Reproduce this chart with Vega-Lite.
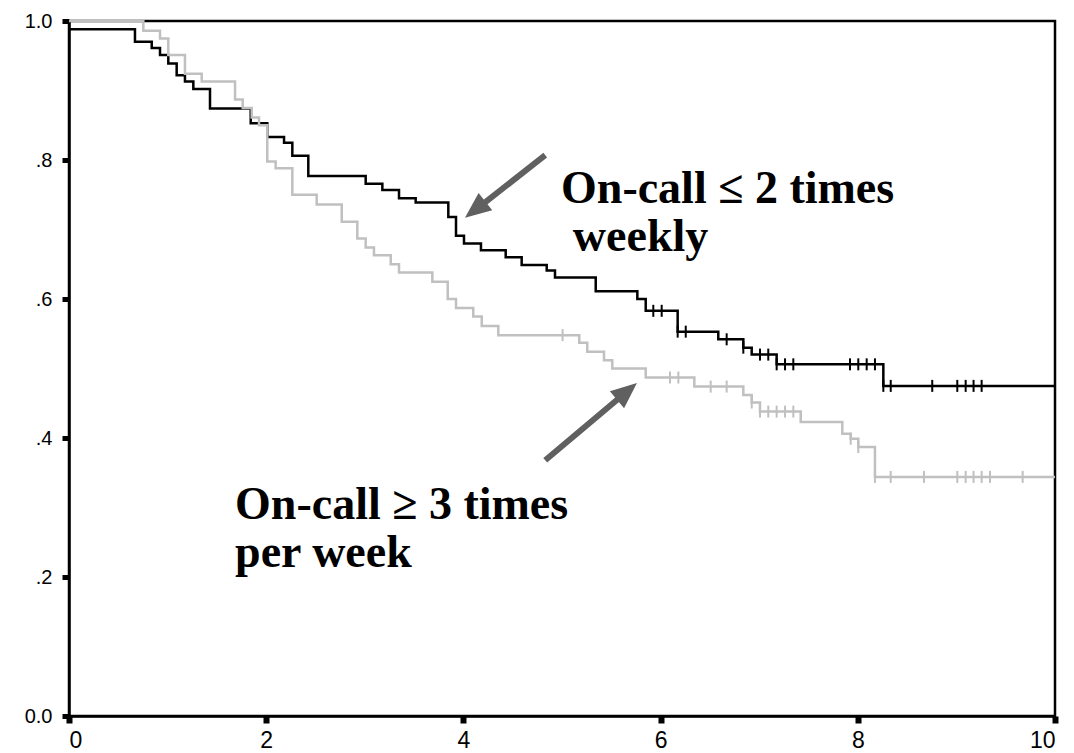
{
  "$schema": "https://vega.github.io/schema/vega-lite/v6.json",
  "width": 986,
  "height": 695,
  "autosize": {"type": "none"},
  "padding": {"left": 69, "top": 21, "right": 19, "bottom": 37},
  "background": "white",
  "config": {
    "view": {"stroke": "black", "strokeWidth": 2.5},
    "axis": {"grid": false, "domainColor": "black", "domainWidth": 2.5, "tickColor": "black", "labelColor": "black", "labelFont": "Liberation Sans", "title": null}
  },
  "datasets": {
    "curves": [
      {"group": "low", "t": 0, "s": 0.988},
      {"group": "low", "t": 0.669, "s": 0.970},
      {"group": "low", "t": 0.839, "s": 0.961},
      {"group": "low", "t": 0.923, "s": 0.951},
      {"group": "low", "t": 1.007, "s": 0.939},
      {"group": "low", "t": 1.092, "s": 0.922},
      {"group": "low", "t": 1.176, "s": 0.913},
      {"group": "low", "t": 1.261, "s": 0.902},
      {"group": "low", "t": 1.430, "s": 0.874},
      {"group": "low", "t": 1.843, "s": 0.853},
      {"group": "low", "t": 2.011, "s": 0.833},
      {"group": "low", "t": 2.181, "s": 0.825},
      {"group": "low", "t": 2.265, "s": 0.806},
      {"group": "low", "t": 2.427, "s": 0.777},
      {"group": "low", "t": 3.009, "s": 0.766},
      {"group": "low", "t": 3.178, "s": 0.757},
      {"group": "low", "t": 3.347, "s": 0.745},
      {"group": "low", "t": 3.516, "s": 0.739},
      {"group": "low", "t": 3.847, "s": 0.718},
      {"group": "low", "t": 3.925, "s": 0.691},
      {"group": "low", "t": 4.006, "s": 0.680},
      {"group": "low", "t": 4.178, "s": 0.670},
      {"group": "low", "t": 4.429, "s": 0.660},
      {"group": "low", "t": 4.591, "s": 0.649},
      {"group": "low", "t": 4.845, "s": 0.641},
      {"group": "low", "t": 4.929, "s": 0.631},
      {"group": "low", "t": 5.342, "s": 0.611},
      {"group": "low", "t": 5.764, "s": 0.600},
      {"group": "low", "t": 5.849, "s": 0.583},
      {"group": "low", "t": 6.173, "s": 0.553},
      {"group": "low", "t": 6.585, "s": 0.542},
      {"group": "low", "t": 6.839, "s": 0.530},
      {"group": "low", "t": 6.924, "s": 0.520},
      {"group": "low", "t": 7.177, "s": 0.506},
      {"group": "low", "t": 8.259, "s": 0.475},
      {"group": "low", "t": 10, "s": 0.475},
      {"group": "high", "t": 0, "s": 1.0},
      {"group": "high", "t": 0.754, "s": 0.986},
      {"group": "high", "t": 0.923, "s": 0.975},
      {"group": "high", "t": 1.007, "s": 0.951},
      {"group": "high", "t": 1.176, "s": 0.924},
      {"group": "high", "t": 1.346, "s": 0.913},
      {"group": "high", "t": 1.684, "s": 0.887},
      {"group": "high", "t": 1.762, "s": 0.875},
      {"group": "high", "t": 1.853, "s": 0.861},
      {"group": "high", "t": 1.927, "s": 0.850},
      {"group": "high", "t": 2.011, "s": 0.798},
      {"group": "high", "t": 2.096, "s": 0.788},
      {"group": "high", "t": 2.265, "s": 0.750},
      {"group": "high", "t": 2.512, "s": 0.736},
      {"group": "high", "t": 2.766, "s": 0.711},
      {"group": "high", "t": 2.924, "s": 0.687},
      {"group": "high", "t": 3.009, "s": 0.674},
      {"group": "high", "t": 3.093, "s": 0.663},
      {"group": "high", "t": 3.263, "s": 0.650},
      {"group": "high", "t": 3.347, "s": 0.638},
      {"group": "high", "t": 3.685, "s": 0.625},
      {"group": "high", "t": 3.841, "s": 0.600},
      {"group": "high", "t": 3.925, "s": 0.587},
      {"group": "high", "t": 4.100, "s": 0.575},
      {"group": "high", "t": 4.186, "s": 0.561},
      {"group": "high", "t": 4.354, "s": 0.548},
      {"group": "high", "t": 5.175, "s": 0.537},
      {"group": "high", "t": 5.256, "s": 0.524},
      {"group": "high", "t": 5.426, "s": 0.512},
      {"group": "high", "t": 5.510, "s": 0.500},
      {"group": "high", "t": 5.849, "s": 0.487},
      {"group": "high", "t": 6.342, "s": 0.474},
      {"group": "high", "t": 6.839, "s": 0.462},
      {"group": "high", "t": 6.924, "s": 0.451},
      {"group": "high", "t": 7.008, "s": 0.438},
      {"group": "high", "t": 7.421, "s": 0.423},
      {"group": "high", "t": 7.843, "s": 0.406},
      {"group": "high", "t": 7.928, "s": 0.399},
      {"group": "high", "t": 8.005, "s": 0.387},
      {"group": "high", "t": 8.174, "s": 0.344},
      {"group": "high", "t": 10, "s": 0.344}
    ],
    "censor": [
      {"group": "low", "t": 5.926, "s": 0.583},
      {"group": "low", "t": 6.011, "s": 0.583},
      {"group": "low", "t": 6.173, "s": 0.553},
      {"group": "low", "t": 6.255, "s": 0.553},
      {"group": "low", "t": 6.670, "s": 0.542},
      {"group": "low", "t": 6.839, "s": 0.530},
      {"group": "low", "t": 7.008, "s": 0.520},
      {"group": "low", "t": 7.092, "s": 0.520},
      {"group": "low", "t": 7.177, "s": 0.506},
      {"group": "low", "t": 7.262, "s": 0.506},
      {"group": "low", "t": 7.346, "s": 0.506},
      {"group": "low", "t": 7.921, "s": 0.506},
      {"group": "low", "t": 8.005, "s": 0.506},
      {"group": "low", "t": 8.090, "s": 0.506},
      {"group": "low", "t": 8.174, "s": 0.506},
      {"group": "low", "t": 8.259, "s": 0.475},
      {"group": "low", "t": 8.334, "s": 0.475},
      {"group": "low", "t": 8.755, "s": 0.475},
      {"group": "low", "t": 9.009, "s": 0.475},
      {"group": "low", "t": 9.094, "s": 0.475},
      {"group": "low", "t": 9.174, "s": 0.475},
      {"group": "low", "t": 9.256, "s": 0.475},
      {"group": "high", "t": 5.006, "s": 0.548},
      {"group": "high", "t": 6.095, "s": 0.487},
      {"group": "high", "t": 6.180, "s": 0.487},
      {"group": "high", "t": 6.508, "s": 0.474},
      {"group": "high", "t": 6.670, "s": 0.474},
      {"group": "high", "t": 6.924, "s": 0.451},
      {"group": "high", "t": 7.008, "s": 0.438},
      {"group": "high", "t": 7.092, "s": 0.438},
      {"group": "high", "t": 7.177, "s": 0.438},
      {"group": "high", "t": 7.262, "s": 0.438},
      {"group": "high", "t": 7.346, "s": 0.438},
      {"group": "high", "t": 7.928, "s": 0.399},
      {"group": "high", "t": 8.005, "s": 0.387},
      {"group": "high", "t": 8.174, "s": 0.344},
      {"group": "high", "t": 8.334, "s": 0.344},
      {"group": "high", "t": 8.671, "s": 0.344},
      {"group": "high", "t": 9.009, "s": 0.344},
      {"group": "high", "t": 9.094, "s": 0.344},
      {"group": "high", "t": 9.174, "s": 0.344},
      {"group": "high", "t": 9.256, "s": 0.344},
      {"group": "high", "t": 9.341, "s": 0.344},
      {"group": "high", "t": 9.672, "s": 0.344}
    ],
    "labels": [
      {"t": 4.99, "s": 0.7381, "text": "On-call ≤ 2 times"},
      {"t": 5.11, "s": 0.669, "text": "weekly"},
      {"t": 1.684, "s": 0.2835, "text": "On-call ≥ 3 times"},
      {"t": 1.684, "s": 0.2144, "text": "per week"}
    ],
    "arrows": [
      {"arrow": "a1", "part": "start", "t": 4.83, "s": 0.807},
      {"arrow": "a1", "part": "end", "t": 4.12, "s": 0.728},
      {"arrow": "a2", "part": "start", "t": 4.83, "s": 0.368},
      {"arrow": "a2", "part": "end", "t": 5.659, "s": 0.467}
    ],
    "heads": [
      {"arrow": "a1", "t": 4.016, "s": 0.717},
      {"arrow": "a2", "t": 5.76, "s": 0.479}
    ]
  },
  "encoding": {
    "x": {"field": "t", "type": "quantitative", "scale": {"domain": [0, 10], "nice": false},
      "axis": {"values": [0, 2, 4, 6, 8, 10], "format": "d", "tickSize": 7, "tickWidth": 6, "labelFontSize": 23, "labelPadding": 6, "labelFont": "Liberation Sans"}},
    "y": {"field": "s", "type": "quantitative", "scale": {"domain": [0, 1], "nice": false},
      "axis": {"values": [0, 0.2, 0.4, 0.6, 0.8, 1.0], "tickSize": 7, "tickWidth": 5, "labelFontSize": 20, "labelPadding": 10,
        "labelExpr": "datum.value == 0 ? '0.0' : (datum.value == 1 ? '1.0' : replace(format(datum.value, '.1f'), '0.', '.'))"}}
  },
  "layer": [
    {
      "data": {"name": "curves"},
      "mark": {"type": "line", "interpolate": "step-after", "strokeWidth": 2.5},
      "encoding": {
        "color": {"field": "group", "type": "nominal", "scale": {"domain": ["high", "low"], "range": ["#c0c0c0", "#000000"]}, "legend": null},
        "order": {"field": "group", "sort": "ascending"}
      }
    },
    {
      "data": {"name": "censor"},
      "mark": {"type": "point", "shape": "M0,-1L0,1", "filled": false, "strokeWidth": 2, "size": 144, "opacity": 1},
      "encoding": {
        "color": {"field": "group", "type": "nominal", "legend": null}
      }
    },
    {
      "data": {"name": "arrows"},
      "mark": {"type": "line", "color": "#606060", "strokeWidth": 6, "strokeCap": "butt"},
      "encoding": {
        "detail": {"field": "arrow", "type": "nominal"}
      }
    },
    {
      "data": {"name": "heads"},
      "transform": [{"filter": "datum.arrow == 'a1'"}],
      "mark": {"type": "point", "shape": "M0,0L0.85,2L-0.85,2Z", "filled": true, "color": "#606060", "size": 676, "angle": 231.8, "opacity": 1, "strokeWidth": 0}
    },
    {
      "data": {"name": "heads"},
      "transform": [{"filter": "datum.arrow == 'a2'"}],
      "mark": {"type": "point", "shape": "M0,0L0.85,2L-0.85,2Z", "filled": true, "color": "#606060", "size": 676, "angle": 50.1, "opacity": 1, "strokeWidth": 0}
    },
    {
      "data": {"name": "labels"},
      "mark": {"type": "text", "font": "Liberation Serif", "fontWeight": "bold", "fontSize": 46, "align": "left", "baseline": "alphabetic", "color": "black"},
      "encoding": {
        "text": {"field": "text"}
      }
    }
  ]
}
